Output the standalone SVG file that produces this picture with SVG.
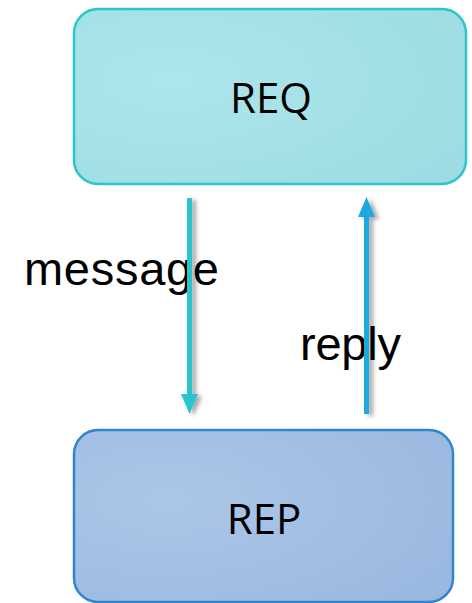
<svg xmlns="http://www.w3.org/2000/svg" width="472" height="603" viewBox="0 0 472 603">
<style>
.box{stroke-width:2.5}
.lbl{font-family:"Open Sans","Noto Sans",sans-serif;font-size:42px;fill:#000;text-anchor:middle}
.edge{font-family:"Liberation Sans",Arial,sans-serif;font-size:47px;fill:#000}
.conn{stroke-width:5;fill:none}
</style>
<defs>
<radialGradient id="gReq" cx="0.25" cy="0.4" r="1">
<stop offset="0" stop-color="#ade6ec"/><stop offset="1" stop-color="#9bdbe1"/>
</radialGradient>
<radialGradient id="gRep" cx="0.25" cy="0.4" r="1">
<stop offset="0" stop-color="#abc6e8"/><stop offset="1" stop-color="#98b7df"/>
</radialGradient>
<filter id="sh" x="-2" y="-0.2" width="5" height="1.4">
<feDropShadow dx="4" dy="2" stdDeviation="2" flood-color="#000" flood-opacity="0.35"/>
</filter>
<marker id="aMsg" markerWidth="4" markerHeight="4" refX="2" refY="2" orient="auto" markerUnits="strokeWidth" viewBox="0 0 4 4">
<path d="M0,0.3 L4,2 L0,3.7 Z" fill="#2bc4cf"/>
</marker>
<marker id="aRep" markerWidth="4" markerHeight="4" refX="2" refY="2" orient="auto" markerUnits="strokeWidth" viewBox="0 0 4 4">
<path d="M0,0.3 L4,2 L0,3.7 Z" fill="#1fa9e1"/>
</marker>
</defs>
<g id="req">
<rect class="box" x="74" y="9" width="392" height="175" rx="24" fill="url(#gReq)" stroke="#2ec4cc"/>
<text class="lbl" x="271" y="113">REQ</text>
</g>
<g id="rep">
<rect class="box" x="74" y="430" width="379" height="172" rx="24" fill="url(#gRep)" stroke="#2f86cc"/>
<text class="lbl" x="264" y="534">REP</text>
</g>
<g id="connectors">
<text class="edge" x="24" y="285" textLength="195" lengthAdjust="spacing">message</text>
<text class="edge" x="300" y="360" textLength="101" lengthAdjust="spacing">reply</text>
<g filter="url(#sh)">
<line class="conn" x1="189.5" y1="198" x2="189.5" y2="404" stroke="#2bc4cf" marker-end="url(#aMsg)"/>
<line class="conn" x1="366.5" y1="414" x2="366.5" y2="207" stroke="#1fa9e1" marker-end="url(#aRep)"/>
</g>
</g>
</svg>
